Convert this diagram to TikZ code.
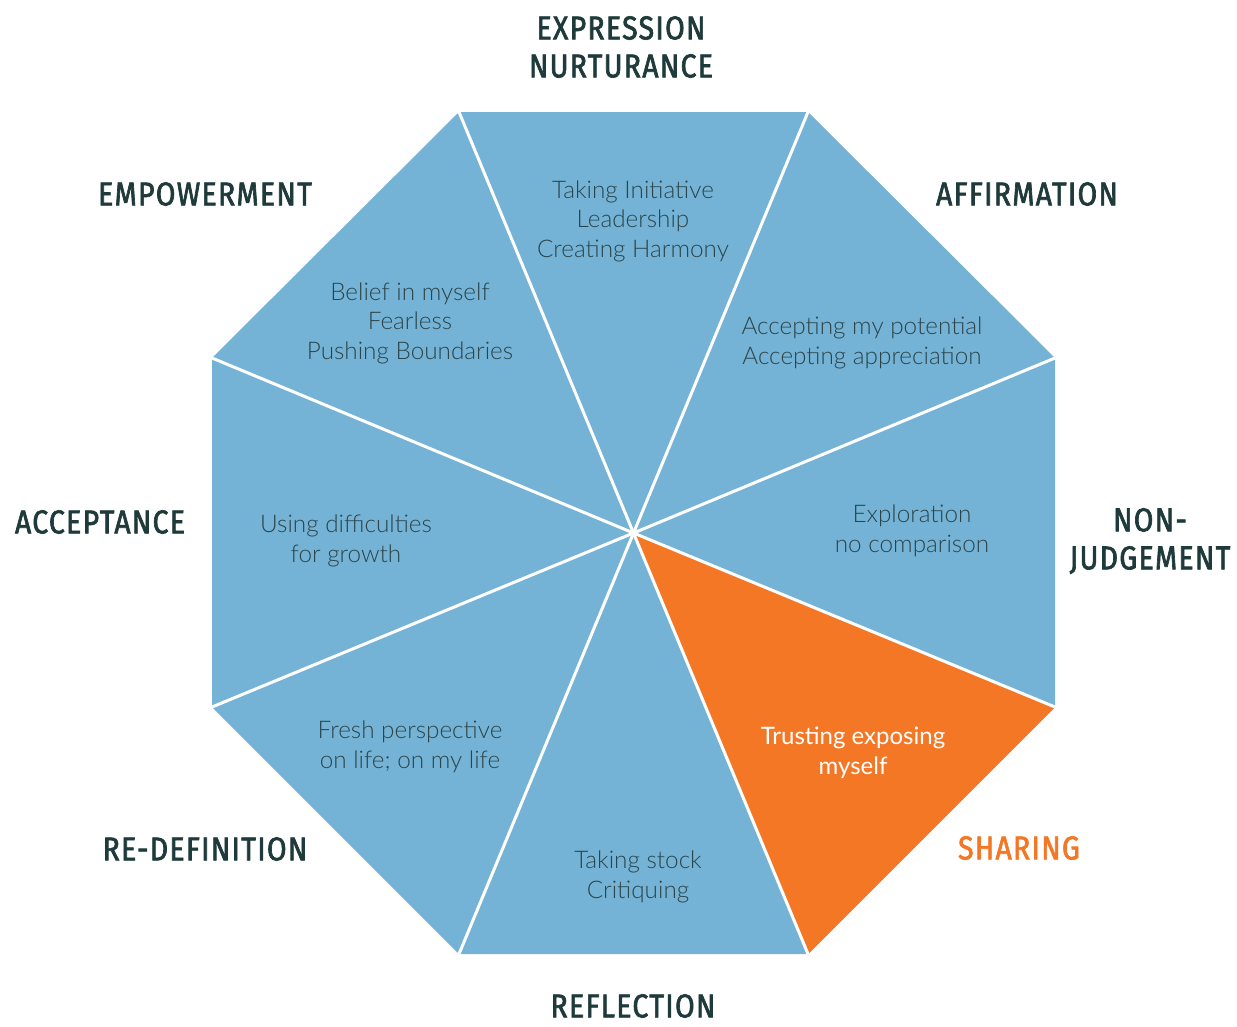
\documentclass[tikz,border=0pt]{standalone}
\usepackage{fontspec}
\setmainfont{Lato Light}
\newfontfamily\hotfont{Lato}
\newfontfamily\labfont[FakeStretch=0.86,FakeBold=2,LetterSpace=4]{Fira Sans}
\definecolor{octblue}{HTML}{74B3D5}
\definecolor{octorange}{HTML}{F47726}
\definecolor{labdark}{HTML}{1F3A3A}
\definecolor{wedgetext}{HTML}{2B454B}
\tikzset{
  wedge/.style={fill=octblue, draw=none},
  hotwedge/.style={fill=octorange, draw=none},
  sep/.style={draw=white, line width=3pt},
  wtxt/.style={text=wedgetext, align=center, font=\fontsize{24.3}{29.5}\selectfont, inner sep=0pt},
  htxt/.style={text=white, align=center, font=\hotfont\fontsize{24}{29.5}\selectfont, inner sep=0pt},
  lab/.style={text=labdark, align=center, font=\labfont\fontsize{33}{38}\selectfont, inner sep=0pt},
  hotlab/.style={lab, text=octorange}
}
\begin{document}
\begin{tikzpicture}[x=1pt,y=-1pt]
\useasboundingbox (0,0) rectangle (1237,1026);
\fill[white] (0,0) rectangle (1237,1026);
% vertices
\coordinate (c) at (633.5,533);
\coordinate (v1) at (459,112);
\coordinate (v2) at (808,112);
\coordinate (v3) at (1055,358);
\coordinate (v4) at (1055,707);
\coordinate (v5) at (808,954);
\coordinate (v6) at (459,954);
\coordinate (v7) at (212,707);
\coordinate (v8) at (212,358);
% wedges
\path[wedge] (v1) -- (v2) -- (v3) -- (v4) -- (v5) -- (v6) -- (v7) -- (v8) -- cycle;
\path[hotwedge] (c) -- (v4) -- (v5) -- cycle;
% separators
\foreach \v in {v1,v2,v3,v4,v5,v6,v7,v8} \draw[sep] (c) -- (\v);
% wedge texts
\node[wtxt] (t1) at (633,221) {Taking Initiative\\Leadership\\Creating Harmony};
\node[wtxt] (t2) at (862,343) {Accepting my potential\\Accepting appreciation};
\node[wtxt] (t3) at (912,531) {Exploration\\no comparison};
\node[htxt] (t4) at (853,753) {Trusting exposing\\myself};
\node[wtxt] (t5) at (638,877) {Taking stock\\Critiquing};
\node[wtxt] (t6) at (410,747) {Fresh perspective\\on life; on my life};
\node[wtxt] (t7) at (346,541) {Using difficulties\\for growth};
\node[wtxt] (t8) at (410,323) {Belief in myself\\Fearless\\Pushing Boundaries};
% labels
\node[lab] (l1) at (621,47) {EXPRESSION\\NURTURANCE};
\node[lab] (l2) at (1027,194) {AFFIRMATION};
\node[lab] (l3) at (1150,541) {NON-\\JUDGEMENT};
\node[hotlab] (l4) at (1019,848) {SHARING};
\node[lab] (l5) at (633,1006) {REFLECTION};
\node[lab] (l6) at (205,849) {RE-DEFINITION};
\node[lab] (l7) at (100,522) {ACCEPTANCE};
\node[lab] (l8) at (205,194) {EMPOWERMENT};
\end{tikzpicture}
\end{document}
